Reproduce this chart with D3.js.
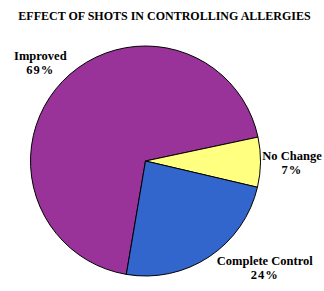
<!DOCTYPE html>
<html>
<head>
<meta charset="utf-8">
<script src="https://cdn.jsdelivr.net/npm/d3@7"></script>
<style>
  body { margin: 0; background: #fff; }
  text { font-family: "Liberation Serif", "Times New Roman", serif; font-weight: bold; fill: #000; }
</style>
</head>
<body>
<div id="chart"></div>
<script>
// chart data
var categories = ["Improved", "No Change", "Complete Control"];
var values = [69, 7, 24];
var colors = ["#993399", "#ffff80", "#3366cc"];
var title = "EFFECT OF SHOTS IN CONTROLLING ALLERGIES";

var svgWidth = 324;
var svgHeight = 291;
var cx = 145.5, cy = 161, radius = 115;

var svg = d3.select("#chart")
  .append("svg")
  .attr("width", svgWidth)
  .attr("height", svgHeight);

svg.append("text")
  .attr("x", 164.5)
  .attr("y", 20)
  .attr("text-anchor", "middle")
  .attr("font-size", "12px")
  .text(title);

var data = categories.map(function(c, i) {
  return { name: c, value: values[i], color: colors[i] };
});

// start angle so that "No Change" sits on the right side
var start = -170.4 * Math.PI / 180;
var pie = d3.pie()
  .sort(null)
  .value(d => d.value)
  .startAngle(start)
  .endAngle(start + 2 * Math.PI);

var arc = d3.arc().innerRadius(0).outerRadius(radius);
var labelArc = d3.arc().innerRadius(145).outerRadius(145);

var g = svg.append("g")
  .attr("transform", `translate(${cx}, ${cy})`);

var arcs = pie(data);

g.selectAll("path")
  .data(arcs)
  .enter().append("path")
  .attr("d", arc)
  .attr("fill", d => d.data.color)
  .attr("stroke", "#000")
  .attr("stroke-width", 1);

// small nudges so labels sit where the original had them
var nudge = [[-0.5, 0], [1.5, -2], [39, -15.8]];

var labels = g.selectAll("g.lbl")
  .data(arcs)
  .enter().append("g")
  .attr("class", "lbl")
  .attr("transform", function(d, i) {
    var c = labelArc.centroid(d);
    return `translate(${c[0] + nudge[i][0]}, ${c[1] + nudge[i][1]})`;
  });

labels.append("text")
  .attr("text-anchor", "middle")
  .attr("font-size", "12.5px")
  .attr("y", -1)
  .text(d => d.data.name);

labels.append("text")
  .attr("text-anchor", "middle")
  .attr("font-size", "12.5px")
  .attr("letter-spacing", "1px")
  .attr("y", 13.5)
  .text(d => Math.round(d.data.value) + "%");
</script>
</body>
</html>
